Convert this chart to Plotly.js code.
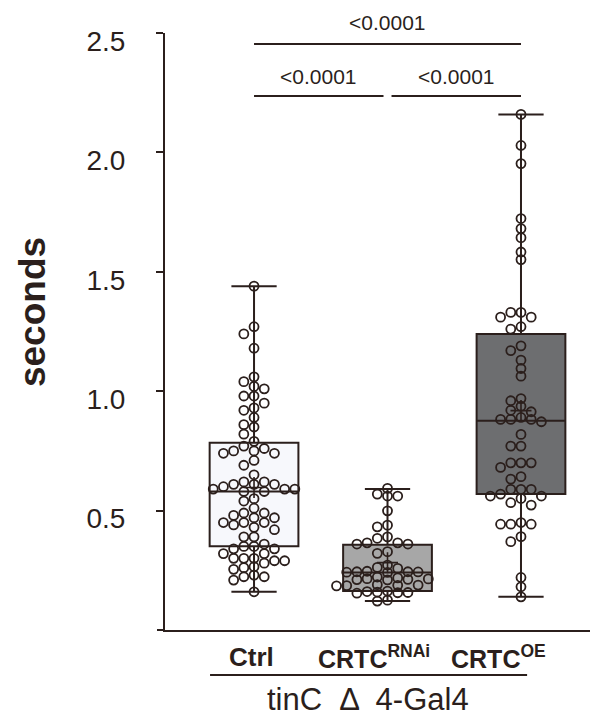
<!DOCTYPE html>
<html><head><meta charset="utf-8">
<script src="https://cdn.plot.ly/plotly-3.0.1.min.js"></script>
<style>html,body{margin:0;padding:0;background:#fff}</style>
</head><body><div id="chart" style="width:609px;height:724px"></div>
<script>
const groups = ['Ctrl', 'CRTC<sup>RNAi</sup>', 'CRTC<sup>OE</sup>'];
const ctrlValues = [1.44, 1.27, 1.24, 1.18, 1.06, 1.04, 1.02, 1.01, 0.98, 0.98, 0.95, 0.93, 0.92, 0.89, 0.86, 0.85, 0.82, 0.79,
  0.77, 0.76, 0.75, 0.75, 0.74, 0.74, 0.71, 0.69, 0.65,
  0.61, 0.61, 0.61, 0.62, 0.62, 0.58, 0.58, 0.59, 0.59, 0.59, 0.60,
  0.55, 0.54, 0.51,
  0.49, 0.49, 0.47, 0.48, 0.47, 0.45, 0.44, 0.45, 0.45, 0.43, 0.42,
  0.39, 0.39, 0.36,
  0.35, 0.35, 0.34, 0.34, 0.32, 0.32,
  0.28, 0.29, 0.29, 0.30, 0.30, 0.30,
  0.265, 0.254, 0.261, 0.23, 0.223, 0.223, 0.209, 0.16];
const rnaiValues = [0.593, 0.569, 0.561, 0.561, 0.499, 0.439, 0.432, 0.39, 0.384, 0.365, 0.365, 0.36, 0.36, 0.328, 0.321,
  0.272, 0.262, 0.258,
  0.246, 0.244, 0.244, 0.243, 0.242, 0.241,
  0.222, 0.218, 0.215, 0.214, 0.212, 0.211, 0.21,
  0.19, 0.188, 0.187, 0.186, 0.185,
  0.163, 0.161, 0.159, 0.157, 0.156, 0.154,
  0.125, 0.121];
const oeValues = [2.159, 2.029, 1.953, 1.723, 1.681, 1.643, 1.583, 1.551,
  1.33, 1.33, 1.31, 1.31, 1.27, 1.26, 1.19, 1.17, 1.13, 1.095, 1.063,
  0.969, 0.96, 0.937, 0.914, 0.92,
  0.89, 0.882, 0.882, 0.882, 0.872, 0.819, 0.77, 0.77, 0.70, 0.70, 0.70, 0.681, 0.642, 0.632,
  0.589, 0.589, 0.589, 0.569, 0.551, 0.561, 0.561, 0.533, 0.523,
  0.443, 0.443, 0.443, 0.45, 0.391, 0.37, 0.22, 0.181, 0.139];
const boxQ1 = [0.351, 0.163, 0.569];
const boxMedian = [0.58, 0.241, 0.876];
const boxQ3 = [0.784, 0.357, 1.24];
const boxMin = [0.16, 0.121, 0.139];
const boxMax = [1.44, 0.59, 2.159];
const boxFills = ['#f7f8fc', '#a7a7a7', '#6d6e70'];
const yTickValues = [0.5, 1.0, 1.5, 2.0, 2.5];
const yTickLabels = ['0.5', '1.0', '1.5', '2.0', '2.5'];
const pLabels = ['<0.0001', '<0.0001', '<0.0001'];
const driverLabel = 'tinC  \u0394  4-Gal4';
const yTitle = 'seconds';

const INK = '#2b1f1c';
const W = 609, H = 724;
const M = {l: 165, r: 19, t: 33, b: 94};
const XR = [-0.667, 2.517], YR = [0, 2.5];
const pxPerX = (W - M.l - M.r) / (XR[1] - XR[0]);
const pxPerY = (H - M.t - M.b) / (YR[1] - YR[0]);

// beeswarm-like column placement computed from the values
function swarm(vals, center) {
  const colStepPx = 10.2, minGapPx = 7.2;
  const order = vals.map((v, i) => ({v, i})).sort((a, b) => b.v - a.v);
  const placed = [];
  const xs = new Array(vals.length);
  for (const p of order) {
    const py = p.v * pxPerY;
    let col = 0;
    for (let n = 0; n < 40; n++) {
      const c = n === 0 ? 0 : (n % 2 ? -Math.ceil(n / 2) : Math.ceil(n / 2));
      if (!placed.some(q => q.col === c && Math.abs(q.py - py) < minGapPx)) { col = c; break; }
    }
    placed.push({col, py});
    xs[p.i] = center + col * colStepPx / pxPerX;
  }
  return xs;
}

const allValues = [ctrlValues, rnaiValues, oeValues];
const traces = [];
allValues.forEach((vals, i) => {
  traces.push({
    type: 'box', x: [i], q1: [boxQ1[i]], median: [boxMedian[i]], q3: [boxQ3[i]],
    lowerfence: [boxMin[i]], upperfence: [boxMax[i]],
    width: 0.665, whiskerwidth: 0.51, fillcolor: boxFills[i],
    line: {color: INK, width: 2}, boxpoints: false, hoverinfo: 'skip', showlegend: false
  });
});
allValues.forEach((vals, i) => {
  traces.push({
    type: 'scatter', mode: 'markers', x: swarm(vals, i), y: vals, cliponaxis: false,
    marker: {symbol: 'circle-open', size: 9, color: INK, line: {width: 1.8, color: INK}},
    hoverinfo: 'skip', showlegend: false
  });
});
// mean markers
traces.push({
  type: 'scatter', mode: 'markers', x: [0, 1, 2],
  y: allValues.map(v => v.reduce((a, b) => a + b, 0) / v.length),
  marker: {symbol: 'cross-thin-open', size: 15, color: INK, line: {width: 1.6, color: INK}},
  hoverinfo: 'skip', showlegend: false
});

const FONT = 'Liberation Sans, Arial, Helvetica, sans-serif';
const yTop = (630 - 44) / pxPerY, yLow = (630 - 96) / pxPerY;
const shapes = [
  {type: 'line', xref: 'x', yref: 'y', x0: 0, x1: 2, y0: yTop, y1: yTop, line: {color: INK, width: 2}},
  {type: 'line', xref: 'x', yref: 'y', x0: 0, x1: 0.97, y0: yLow, y1: yLow, line: {color: INK, width: 2}},
  {type: 'line', xref: 'x', yref: 'y', x0: 1.03, x1: 2, y0: yLow, y1: yLow, line: {color: INK, width: 2}},
  {type: 'line', xref: 'paper', yref: 'paper', x0: 0.106, x1: 0.852, y0: -0.0754, y1: -0.0754, line: {color: INK, width: 2}},
  {type: 'line', xref: 'paper', yref: 'paper', x0: -8 / (W - M.l - M.r), x1: 0, y0: 0, y1: 0, line: {color: INK, width: 2}}
];
const annotations = [
  {x: 1, y: yTop, xref: 'x', yref: 'y', text: pLabels[0], showarrow: false, yanchor: 'bottom', yshift: 8, font: {size: 21, color: INK, family: FONT}},
  {x: 0.485, y: yLow, xref: 'x', yref: 'y', text: pLabels[1], showarrow: false, yanchor: 'bottom', yshift: 6, font: {size: 21, color: INK, family: FONT}},
  {x: 1.515, y: yLow, xref: 'x', yref: 'y', text: pLabels[2], showarrow: false, yanchor: 'bottom', yshift: 6, font: {size: 21, color: INK, family: FONT}},
  {x: 0, y: -0.0452, xref: 'x', yref: 'paper', text: '<b>' + groups[0] + '</b>', showarrow: false, xanchor: 'center', yanchor: 'middle', xshift: -3, font: {size: 26, color: INK, family: FONT}},
  {x: 1, y: -0.0452, xref: 'x', yref: 'paper', text: '<b>' + groups[1] + '</b>', showarrow: false, xanchor: 'left', yanchor: 'middle', xshift: -72, font: {size: 25, color: INK, family: FONT}},
  {x: 2, y: -0.0452, xref: 'x', yref: 'paper', text: '<b>' + groups[2] + '</b>', showarrow: false, xanchor: 'left', yanchor: 'middle', xshift: -72, font: {size: 25, color: INK, family: FONT}},
  {x: 0.478, y: -0.117, xref: 'paper', yref: 'paper', text: driverLabel, showarrow: false, xanchor: 'center', yanchor: 'middle', font: {size: 31, color: INK, family: FONT}},
  {x: -0.31, y: 0.533, xref: 'paper', yref: 'paper', text: '<b>' + yTitle + '</b>', textangle: -90, showarrow: false, xanchor: 'center', yanchor: 'middle', font: {size: 37, color: INK, family: FONT}}
];

const layout = {
  width: W, height: H, margin: M, paper_bgcolor: '#fff', plot_bgcolor: '#fff',
  font: {family: FONT, color: INK},
  showlegend: false,
  xaxis: {range: XR, showgrid: false, zeroline: false, showline: true, linecolor: INK, linewidth: 2,
    ticks: '', showticklabels: false, fixedrange: true},
  yaxis: {range: YR, showgrid: false, zeroline: false, showline: true, linecolor: INK, linewidth: 2,
    ticks: 'outside', ticklen: 7, tickwidth: 2, tickcolor: INK,
    tickvals: yTickValues, ticktext: yTickLabels, tickfont: {size: 28, color: INK, family: FONT},
    ticklabelstandoff: 25, ticklabelshift: 8, fixedrange: true},
  shapes, annotations
};
Plotly.newPlot('chart', traces, layout, {staticPlot: true, displayModeBar: false});
</script></body></html>
